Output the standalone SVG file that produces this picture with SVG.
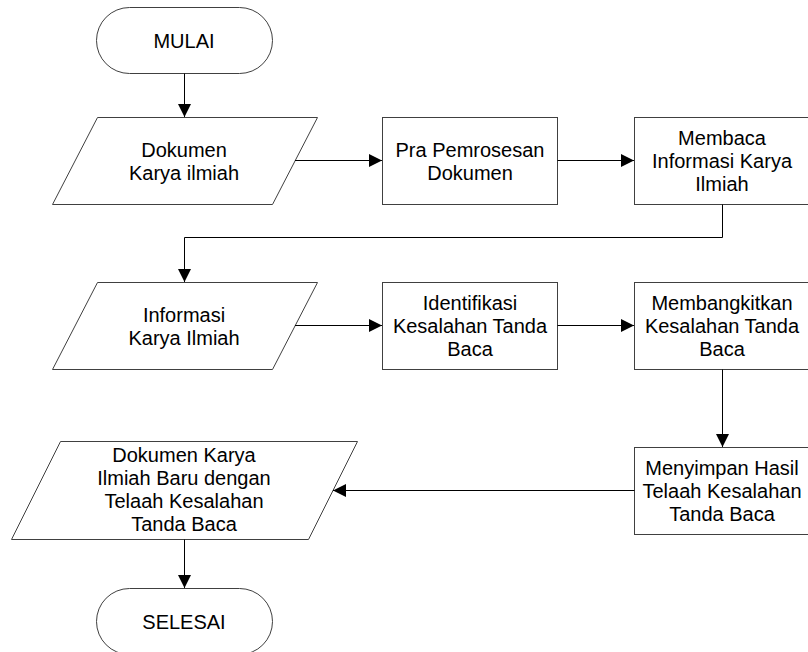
<svg xmlns="http://www.w3.org/2000/svg" width="808" height="652" viewBox="0 0 808 652">
<style>
.shape{fill:#fff;stroke:#404040;stroke-width:1}
.lbl{font-family:"Liberation Sans",Arial,sans-serif;font-size:20px;fill:#000;text-anchor:middle}
.conn{fill:none;stroke:#000;stroke-width:1}
</style>
<defs>
<marker id="ah" markerWidth="13" markerHeight="13" refX="13" refY="6.5" orient="auto" markerUnits="userSpaceOnUse">
<path d="M0,0 L13,6.5 L0,13 Z" fill="#000"/>
</marker>
</defs>
<rect width="808" height="652" fill="#fff"/>
<g id="mulai">
<rect class="shape" x="96.5" y="7.5" width="176" height="66" rx="33" ry="33"/>
<text class="lbl" x="184" y="48">MULAI</text>
</g>
<g id="dokumen">
<polygon class="shape" points="97.5,117.5 317.5,117.5 272.5,204.5 52.5,204.5"/>
<text class="lbl" x="184" y="157">Dokumen</text>
<text class="lbl" x="184" y="180">Karya ilmiah</text>
</g>
<g id="pra">
<rect class="shape" x="382.5" y="117.5" width="175" height="87"/>
<text class="lbl" x="470" y="157">Pra Pemrosesan</text>
<text class="lbl" x="470" y="180">Dokumen</text>
</g>
<g id="membaca">
<rect class="shape" x="634.5" y="117.5" width="175" height="87"/>
<text class="lbl" x="722" y="145">Membaca</text>
<text class="lbl" x="722" y="168">Informasi Karya</text>
<text class="lbl" x="722" y="191">Ilmiah</text>
</g>
<g id="informasi">
<polygon class="shape" points="97.5,282.5 317.5,282.5 272.5,369.5 52.5,369.5"/>
<text class="lbl" x="184" y="322">Informasi</text>
<text class="lbl" x="184" y="345">Karya Ilmiah</text>
</g>
<g id="identifikasi">
<rect class="shape" x="382.5" y="282.5" width="175" height="87"/>
<text class="lbl" x="470" y="310">Identifikasi</text>
<text class="lbl" x="470" y="333">Kesalahan Tanda</text>
<text class="lbl" x="470" y="356">Baca</text>
</g>
<g id="membangkitkan">
<rect class="shape" x="634.5" y="282.5" width="175" height="87"/>
<text class="lbl" x="722" y="310">Membangkitkan</text>
<text class="lbl" x="722" y="333">Kesalahan Tanda</text>
<text class="lbl" x="722" y="356">Baca</text>
</g>
<g id="menyimpan">
<rect class="shape" x="634.5" y="447.5" width="175" height="87"/>
<text class="lbl" x="722" y="475">Menyimpan Hasil</text>
<text class="lbl" x="722" y="498">Telaah Kesalahan</text>
<text class="lbl" x="722" y="521">Tanda Baca</text>
</g>
<g id="dokumenbaru">
<polygon class="shape" points="60.5,441.5 357.5,441.5 308.5,539.5 11.5,539.5"/>
<text class="lbl" x="184" y="462">Dokumen Karya</text>
<text class="lbl" x="184" y="485">Ilmiah Baru dengan</text>
<text class="lbl" x="184" y="508">Telaah Kesalahan</text>
<text class="lbl" x="184" y="531">Tanda Baca</text>
</g>
<g id="selesai">
<rect class="shape" x="96.5" y="588.5" width="176" height="66" rx="33" ry="33"/>
<text class="lbl" x="184" y="629">SELESAI</text>
</g>
<g id="connectors">
<path class="conn" d="M184.5,73.5 V117" marker-end="url(#ah)"/>
<path class="conn" d="M295,160.5 H382" marker-end="url(#ah)"/>
<path class="conn" d="M557.5,160.5 H634" marker-end="url(#ah)"/>
<path class="conn" d="M722.5,204.5 V237.5 H184.5 V282" marker-end="url(#ah)"/>
<path class="conn" d="M295,325.5 H382" marker-end="url(#ah)"/>
<path class="conn" d="M557.5,325.5 H634" marker-end="url(#ah)"/>
<path class="conn" d="M722.5,369.5 V447" marker-end="url(#ah)"/>
<path class="conn" d="M634.5,490.5 H333" marker-end="url(#ah)"/>
<path class="conn" d="M184.5,539.5 V588" marker-end="url(#ah)"/>
</g>
</svg>
